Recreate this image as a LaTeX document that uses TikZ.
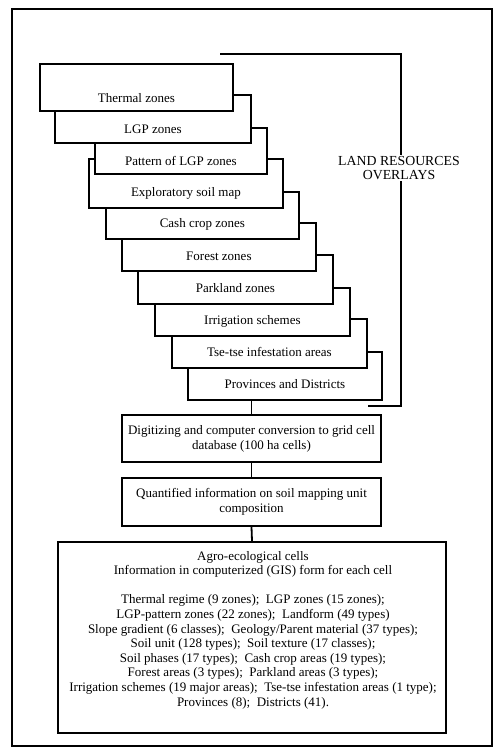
\documentclass[tikz,border=0pt]{standalone}
\usepackage{fontspec}
\setmainfont{Liberation Serif}
\begin{document}
\begin{tikzpicture}[x=1pt,y=-1pt,
  ln/.style={line width=1.8pt},
  stk/.style={draw,ln,fill=white,anchor=north west,inner sep=0pt},
  lbl/.style={font=\fontsize{13}{14.8}\selectfont,inner sep=0pt},
  bx/.style={draw,ln,fill=white,inner sep=0pt,align=center,font=\fontsize{13}{15}\selectfont},
  conn/.style={ln}]
\useasboundingbox (0,0) rectangle (500,755);
\node[draw,ln,anchor=north west,minimum width=480pt,minimum height=737pt,inner sep=0pt] (frame) at (11,8) {};
% bracket
\coordinate (brA) at (220,54);
\coordinate (brB) at (401,54);
\coordinate (brC) at (401,406);
\coordinate (brD) at (368,406);
\draw[ln] (brA) -- (brB) -- (brC) -- (brD);
\node[lbl,fill=white,align=center,inner sep=2pt,font=\fontsize{13.8}{13.5}\selectfont] (lro) at (399,168) {LAND RESOURCES\\OVERLAYS};
% stacked overlays, drawn back to front
\node[stk,minimum width=194pt,minimum height=48pt] (b10) at (187,351) {};
\node[stk,minimum width=195pt,minimum height=49pt] (b9) at (171,318) {};
\node[stk,minimum width=195pt,minimum height=48pt] (b8) at (154,287) {};
\node[stk,minimum width=195pt,minimum height=49pt] (b7) at (137,254) {};
\node[stk,minimum width=194pt,minimum height=48pt] (b6) at (121,222) {};
\node[stk,minimum width=193pt,minimum height=47pt] (b5) at (105,191) {};
\node[stk,minimum width=194pt,minimum height=49pt] (b4) at (88,158) {};
\node[stk,minimum width=172pt,minimum height=46pt] (b3) at (94,127) {};
\node[stk,minimum width=196pt,minimum height=48pt] (b2) at (54,94) {};
\node[stk,minimum width=193pt,minimum height=47pt] (b1) at (39,63) {};
\node[lbl] (t1) at (b1.center |- 0,98) {Thermal zones};
\node[lbl] (t2) at (b2.center |- 0,129) {LGP zones};
\node[lbl] (t3) at (b3.center |- 0,161) {Pattern of LGP zones};
\node[lbl] (t4) at (b4.center |- 0,193) {Exploratory soil map};
\node[lbl] (t5) at (b5.center |- 0,224) {Cash crop zones};
\node[lbl] (t6) at (b6.center |- 0,256) {Forest zones};
\node[lbl] (t7) at (b7.center |- 0,288) {Parkland zones};
\node[lbl] (t8) at (b8.center |- 0,321) {Irrigation schemes};
\node[lbl] (t9) at (b9.center |- 0,352) {Tse-tse infestation areas};
\node[lbl] (t10) at (b10.center |- 0,384) {Provinces and Districts};
% lower boxes
\node[bx,minimum width=259pt,minimum height=47pt] (dig) at (251.5,438.5) {Digitizing and computer conversion to grid cell\\database (100 ha cells)};
\node[bx,minimum width=259pt,minimum height=48pt] (qua) at (251.5,502) {Quantified information on soil mapping unit\\composition};
\node[draw,ln,minimum width=388pt,minimum height=191pt,inner sep=0pt] (agro) at (252,637.5) {};
\node[lbl,align=center,font=\fontsize{13}{14.6}\selectfont] (agrot) at (253,630) {Agro-ecological cells\\
Information in computerized (GIS) form for each cell\\[14.6pt]
Thermal regime (9 zones); \ LGP zones (15 zones);\\
LGP-pattern zones (22 zones); \ Landform (49 types)\\
Slope gradient (6 classes); \ Geology/Parent material (37 types);\\
Soil unit (128 types); \ Soil texture (17 classes);\\
Soil phases (17 types); \ Cash crop areas (19 types);\\
Forest areas (3 types); \ Parkland areas (3 types);\\
Irrigation schemes (19 major areas); \ Tse-tse infestation areas (1 type);\\
Provinces (8); \ Districts (41).};
% connectors
\draw[conn] (dig.north |- b10.south) -- (dig.north);
\draw[conn] (dig.south) -- (qua.north);
\draw[conn] (qua.south) -- (agro.north);
\end{tikzpicture}
\end{document}
